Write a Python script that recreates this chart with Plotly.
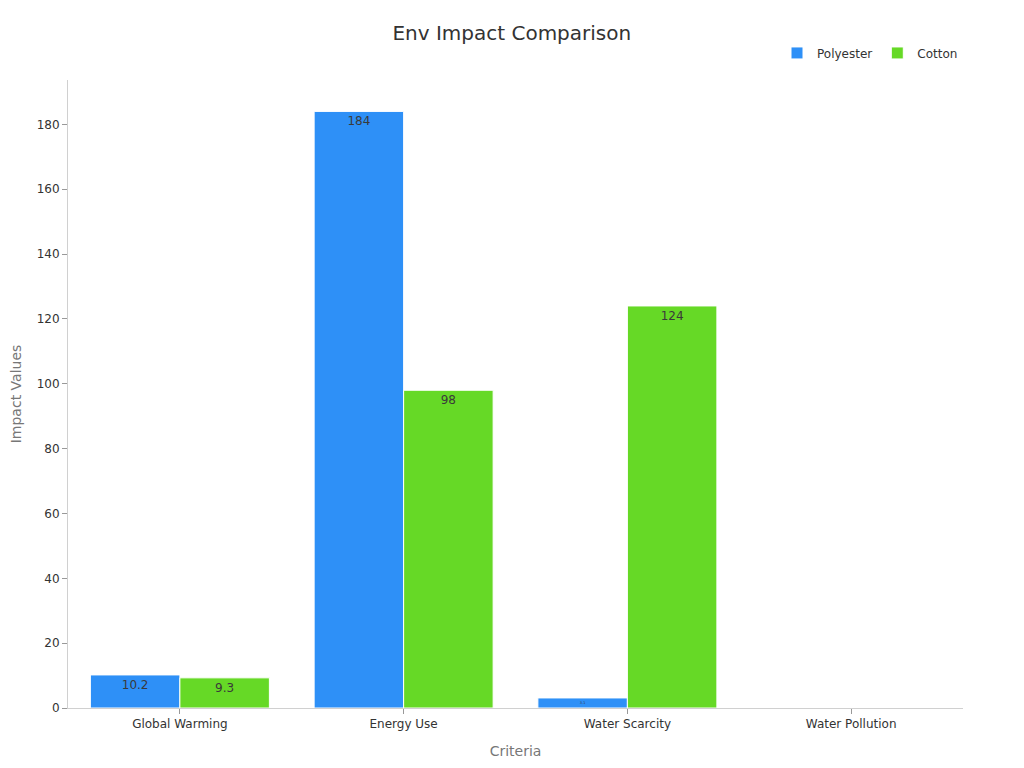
import plotly.graph_objects as go

criteria = ['Global Warming', 'Energy Use', 'Water Scarcity', 'Water Pollution']
polyester = [10.2, 184, 3.1, 0]
cotton = [9.3, 98, 124, 0]

fig = go.Figure(data=[
    go.Bar(name='Polyester', x=criteria, y=polyester, text=polyester,
           textposition='inside', marker=dict(color='#2E90F7', line=dict(color='white', width=1))),
    go.Bar(name='Cotton', x=criteria, y=cotton, text=cotton,
           textposition='inside', marker=dict(color='#66D926', line=dict(color='white', width=1)))
])

fig.update_traces(textfont=dict(color='#3a3a3a', size=12), insidetextanchor='end')

fig.update_layout(
    title=dict(text='Env Impact Comparison', x=0.492, xanchor='center', y=0.976,
               font=dict(size=20, color='#333333')),
    font=dict(family='DejaVu Sans', color='#333333', size=12),
    paper_bgcolor='white', plot_bgcolor='white',
    width=1024, height=768,
    margin=dict(l=60, r=69, t=72, b=68),
    barmode='group', bargap=0.2,
    legend=dict(orientation='h', x=1, xanchor='right', y=1.02, yanchor='bottom',
                font=dict(size=12)),
    xaxis=dict(title=dict(text='Criteria', font=dict(size=14, color='#777777')),
               showline=True, linecolor='#d0d0d0', ticks='outside', tickcolor='#999999',
               ticklen=5, showgrid=False, automargin=False),
    yaxis=dict(title=dict(text='Impact Values', font=dict(size=14, color='#777777')),
               showline=True, linecolor='#d0d0d0', ticks='outside', tickcolor='#999999',
               ticklen=5, showgrid=False, zeroline=False, dtick=20, automargin=False),
)

fig.write_html('out.html')
